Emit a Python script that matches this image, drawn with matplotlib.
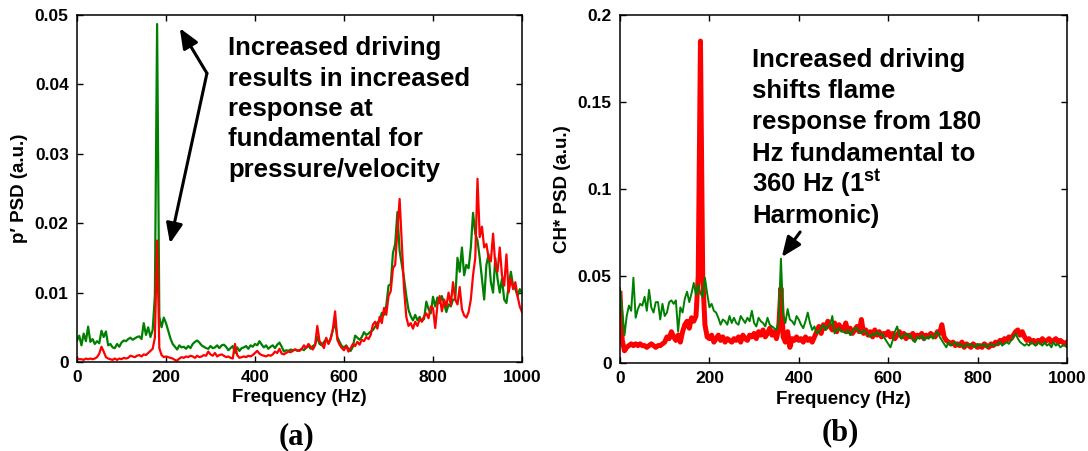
import numpy as np
import matplotlib
matplotlib.use('Agg')
import matplotlib.pyplot as plt
from matplotlib.ticker import FuncFormatter

plt.rcParams['font.family'] = ['Liberation Sans', 'DejaVu Sans']
plt.rcParams['font.weight'] = 'bold'
plt.rcParams['mathtext.fontset'] = 'custom'
plt.rcParams['mathtext.rm'] = 'Liberation Sans:bold'
plt.rcParams['mathtext.default'] = 'rm'

# frequency axis, 5 Hz bins
freq = np.arange(0, 1001, 5)

# (a) pressure PSD
p_green = [
    0.0031, 0.0038, 0.0024, 0.0041, 0.0030, 0.0051, 0.0029, 0.0033, 0.0026, 0.0030,
    0.0027, 0.0045, 0.0036, 0.0044, 0.0024, 0.0026, 0.0021, 0.0020, 0.0026, 0.0022,
    0.0028, 0.0031, 0.0030, 0.0033, 0.0035, 0.0032, 0.0034, 0.0036, 0.0037, 0.0033,
    0.0056, 0.0039, 0.0050, 0.0036, 0.0046, 0.0095, 0.0487, 0.0065, 0.0050, 0.0064,
    0.0056, 0.0045, 0.0034, 0.0026, 0.0022, 0.0018, 0.0024, 0.0021, 0.0022, 0.0019,
    0.0023, 0.0020, 0.0026, 0.0029, 0.0031, 0.0028, 0.0024, 0.0022, 0.0020, 0.0019,
    0.0023, 0.0020, 0.0021, 0.0024, 0.0020, 0.0024, 0.0025, 0.0022, 0.0017, 0.0020,
    0.0023, 0.0013, 0.0021, 0.0016, 0.0020, 0.0021, 0.0023, 0.0019, 0.0024, 0.0022,
    0.0026, 0.0024, 0.0030, 0.0025, 0.0021, 0.0024, 0.0019, 0.0022, 0.0024, 0.0020,
    0.0025, 0.0028, 0.0022, 0.0015, 0.0017, 0.0016, 0.0018, 0.0017, 0.0018, 0.0016,
    0.0017, 0.0019, 0.0017, 0.0021, 0.0023, 0.0019, 0.0023, 0.0025, 0.0036, 0.0026,
    0.0024, 0.0029, 0.0033, 0.0027, 0.0034, 0.0046, 0.0057, 0.0036, 0.0029, 0.0023,
    0.0021, 0.0024, 0.0019, 0.0016, 0.0022, 0.0038, 0.0035, 0.0032, 0.0036, 0.0043,
    0.0039, 0.0041, 0.0044, 0.0046, 0.0051, 0.0057, 0.0059, 0.0071, 0.0068, 0.0081,
    0.0110, 0.0112, 0.0157, 0.0170, 0.0216, 0.0160, 0.0140, 0.0120, 0.0095, 0.0075,
    0.0066, 0.0060, 0.0068, 0.0060, 0.0065, 0.0059, 0.0062, 0.0087, 0.0076, 0.0070,
    0.0094, 0.0080, 0.0093, 0.0085, 0.0095, 0.0084, 0.0072, 0.0083, 0.0080, 0.0090,
    0.0090, 0.0150, 0.0130, 0.0165, 0.0125, 0.0140, 0.0135, 0.0165, 0.0215, 0.0185,
    0.0175, 0.0150, 0.0120, 0.0090, 0.0140, 0.0155, 0.0115, 0.0100, 0.0150, 0.0120,
    0.0100, 0.0120, 0.0090, 0.0085, 0.0110, 0.0130, 0.0110, 0.0105, 0.0095, 0.0105,
    0.0099]
p_red = [
    0.0005, 0.0004, 0.0004, 0.0003, 0.0005, 0.0004, 0.0005, 0.0004, 0.0005, 0.0007,
    0.0012, 0.0022, 0.0015, 0.0007, 0.0005, 0.0004, 0.0003, 0.0005, 0.0003, 0.0005,
    0.0004, 0.0006, 0.0005, 0.0006, 0.0009, 0.0008, 0.0007, 0.0009, 0.0010, 0.0008,
    0.0011, 0.0010, 0.0013, 0.0016, 0.0019, 0.0035, 0.0175, 0.0020, 0.0010, 0.0007,
    0.0008, 0.0007, 0.0006, 0.0005, 0.0003, 0.0002, 0.0005, 0.0007, 0.0006, 0.0008,
    0.0007, 0.0009, 0.0008, 0.0006, 0.0009, 0.0007, 0.0008, 0.0010, 0.0009, 0.0015,
    0.0011, 0.0009, 0.0013, 0.0008, 0.0010, 0.0011, 0.0009, 0.0007, 0.0008, 0.0006,
    0.0005, 0.0026, 0.0010, 0.0006, 0.0007, 0.0008, 0.0007, 0.0009, 0.0008, 0.0010,
    0.0013, 0.0016, 0.0012, 0.0010, 0.0009, 0.0008, 0.0010, 0.0009, 0.0011, 0.0015,
    0.0013, 0.0019, 0.0012, 0.0011, 0.0013, 0.0015, 0.0014, 0.0016, 0.0018, 0.0017,
    0.0016, 0.0019, 0.0024, 0.0020, 0.0026, 0.0022, 0.0018, 0.0024, 0.0052, 0.0030,
    0.0026, 0.0020, 0.0035, 0.0026, 0.0033, 0.0048, 0.0073, 0.0032, 0.0025, 0.0020,
    0.0017, 0.0023, 0.0015, 0.0020, 0.0026, 0.0023, 0.0029, 0.0025, 0.0032, 0.0030,
    0.0036, 0.0033, 0.0039, 0.0054, 0.0058, 0.0048, 0.0065, 0.0056, 0.0078, 0.0068,
    0.0095, 0.0102, 0.0135, 0.0140, 0.0190, 0.0235, 0.0170, 0.0105, 0.0065, 0.0052,
    0.0056, 0.0048, 0.0058, 0.0052, 0.0062, 0.0058, 0.0066, 0.0070, 0.0063, 0.0080,
    0.0078, 0.0049, 0.0082, 0.0095, 0.0073, 0.0090, 0.0080, 0.0100, 0.0082, 0.0115,
    0.0090, 0.0083, 0.0108, 0.0076, 0.0067, 0.0064, 0.0072, 0.0090, 0.0125, 0.0150,
    0.0264, 0.0180, 0.0195, 0.0165, 0.0170, 0.0150, 0.0145, 0.0185, 0.0140, 0.0130,
    0.0165, 0.0125, 0.0110, 0.0155, 0.0100, 0.0120, 0.0105, 0.0115, 0.0095, 0.0080,
    0.0072]

# (b) CH* chemiluminescence PSD
ch_green = [
    0.043, 0.030, 0.016, 0.027, 0.033, 0.030, 0.049, 0.026, 0.031, 0.034,
    0.033, 0.038, 0.030, 0.042, 0.032, 0.029, 0.035, 0.035, 0.025, 0.034,
    0.027, 0.029, 0.035, 0.036, 0.034, 0.036, 0.018, 0.032, 0.029, 0.037,
    0.041, 0.035, 0.040, 0.046, 0.039, 0.045, 0.040, 0.038, 0.049, 0.040,
    0.032, 0.034, 0.030, 0.029, 0.026, 0.022, 0.025, 0.024, 0.022, 0.027,
    0.023, 0.026, 0.023, 0.022, 0.027, 0.025, 0.023, 0.026, 0.024, 0.030,
    0.023, 0.021, 0.026, 0.024, 0.023, 0.021, 0.026, 0.022, 0.021, 0.020,
    0.019, 0.024, 0.060, 0.028, 0.023, 0.031, 0.025, 0.024, 0.022, 0.027,
    0.025, 0.022, 0.020, 0.024, 0.029, 0.023, 0.019, 0.021, 0.017, 0.018,
    0.020, 0.022, 0.019, 0.021, 0.022, 0.027, 0.017, 0.019, 0.020, 0.018,
    0.018, 0.017, 0.019, 0.016, 0.018, 0.020, 0.020, 0.018, 0.017, 0.019,
    0.018, 0.016, 0.015, 0.017, 0.016, 0.018, 0.016, 0.017, 0.015, 0.013,
    0.011, 0.009, 0.013, 0.018, 0.021, 0.016, 0.014, 0.016, 0.017, 0.015,
    0.016, 0.013, 0.012, 0.015, 0.014, 0.016, 0.013, 0.015, 0.014, 0.016,
    0.014, 0.016, 0.018, 0.015, 0.013, 0.011, 0.009, 0.012, 0.010, 0.011,
    0.012, 0.010, 0.011, 0.010, 0.009, 0.011, 0.010, 0.011, 0.010, 0.009,
    0.011, 0.010, 0.010, 0.011, 0.009, 0.010, 0.011, 0.010, 0.010, 0.011,
    0.012, 0.010, 0.011, 0.012, 0.011, 0.013, 0.015, 0.017, 0.014, 0.012,
    0.011, 0.010, 0.011, 0.010, 0.012, 0.011, 0.010, 0.012, 0.011, 0.010,
    0.012, 0.010, 0.011, 0.009, 0.012, 0.010, 0.011, 0.009, 0.010, 0.010,
    0.009]
ch_red = [
    0.040, 0.013, 0.007, 0.009, 0.010, 0.011, 0.010, 0.011, 0.010, 0.011,
    0.010, 0.010, 0.009, 0.010, 0.011, 0.010, 0.009, 0.010, 0.010, 0.011,
    0.012, 0.015, 0.014, 0.018, 0.015, 0.013, 0.016, 0.012, 0.018, 0.022,
    0.024, 0.020, 0.026, 0.024, 0.027, 0.050, 0.185, 0.050, 0.022, 0.015,
    0.014, 0.016, 0.012, 0.014, 0.016, 0.013, 0.015, 0.012, 0.014, 0.013,
    0.012, 0.014, 0.013, 0.015, 0.012, 0.016, 0.014, 0.013, 0.016, 0.015,
    0.017, 0.014, 0.018, 0.016, 0.019, 0.015, 0.017, 0.020, 0.016, 0.018,
    0.014, 0.020, 0.043, 0.015, 0.012, 0.018, 0.009, 0.014, 0.013, 0.015,
    0.013, 0.014, 0.012, 0.015, 0.013, 0.014, 0.012, 0.015, 0.018, 0.021,
    0.017, 0.022, 0.020, 0.024, 0.021, 0.019, 0.023, 0.018, 0.022, 0.020,
    0.019, 0.023, 0.018, 0.020, 0.017, 0.019, 0.021, 0.018, 0.025, 0.017,
    0.019, 0.016, 0.018, 0.015, 0.019, 0.016, 0.018, 0.015, 0.017, 0.016,
    0.018, 0.015, 0.017, 0.014, 0.016, 0.018, 0.015, 0.017, 0.014, 0.016,
    0.015, 0.017, 0.014, 0.016, 0.015, 0.017, 0.014, 0.016, 0.015, 0.017,
    0.016, 0.015, 0.018, 0.017, 0.022, 0.015, 0.013, 0.012, 0.011, 0.012,
    0.010, 0.011, 0.010, 0.012, 0.009, 0.011, 0.010, 0.009, 0.011, 0.010,
    0.009, 0.010, 0.009, 0.011, 0.010, 0.009, 0.011, 0.010, 0.012, 0.011,
    0.013, 0.012, 0.014, 0.013, 0.015, 0.014, 0.016, 0.018, 0.019, 0.016,
    0.018, 0.015, 0.013, 0.014, 0.012, 0.013, 0.011, 0.013, 0.012, 0.014,
    0.012, 0.013, 0.014, 0.012, 0.013, 0.014, 0.012, 0.013, 0.012, 0.011,
    0.012]

xticks = [0, 200, 400, 600, 800, 1000]
yticks_a = [0, 0.01, 0.02, 0.03, 0.04, 0.05]
yticks_b = [0, 0.05, 0.1, 0.15, 0.2]

note_a = ['Increased driving', 'results in increased', 'response at',
          'fundamental for', 'pressure/velocity']
note_b = ['Increased driving', 'shifts flame', 'response from 180',
          'Hz fundamental to', '360 Hz (1$^{st}$', 'Harmonic)']

W, H = 1088, 451
fig = plt.figure(figsize=(W / 100, H / 100), dpi=100)
ax1 = fig.add_axes([77 / W, 1 - 362 / H, 445 / W, 347 / H])
ax2 = fig.add_axes([620 / W, 1 - 363 / H, 447 / W, 348 / H])

ax1.plot(freq, p_green, color='#008000', lw=1.6)
ax1.plot(freq, p_red, color='#ff0000', lw=1.6)
ax2.plot(freq, ch_red, color='#ff0000', lw=3.6)
ax2.plot(freq, ch_green, color='#008000', lw=1.4)

fmt = FuncFormatter(lambda v, p: '%g' % v)
for ax, yt, ylab in [(ax1, yticks_a, 'p\u2032 PSD (a.u.)'), (ax2, yticks_b, 'CH* PSD (a.u.)')]:
    ax.set_xlim(0, 1000)
    ax.set_ylim(yt[0], yt[-1])
    ax.set_xticks(xticks)
    ax.set_yticks(yt)
    ax.yaxis.set_major_formatter(fmt)
    ax.tick_params(direction='in', top=True, right=True, length=4, width=1.0,
                   labelsize=12.5, pad=6)
    for lbl in ax.get_xticklabels() + ax.get_yticklabels():
        lbl.set_fontweight('bold')
    for s in ax.spines.values():
        s.set_linewidth(1.1)
    ax.set_xlabel('Frequency (Hz)', fontsize=13.5, fontweight='bold', labelpad=3)
    ax.set_ylabel(ylab, fontsize=13.5, fontweight='bold', labelpad=5)

# annotation text, one line at a time (baseline positions in pixels)
for i, line in enumerate(note_a):
    fig.text(228 / W, 1 - (55 + 30.5 * i) / H, line, fontsize=18.5,
             fontweight='bold', va='baseline', ha='left')
for i, line in enumerate(note_b):
    fig.text(752 / W, 1 - (67 + 31.2 * i) / H, line, fontsize=18.5,
             fontweight='bold', va='baseline', ha='left')

arrow = dict(arrowstyle='-|>,head_length=0.6,head_width=0.25', color='k',
             lw=2.2, mutation_scale=20, shrinkA=0, shrinkB=0)
ax1.annotate('', xy=(231, 0.0481), xytext=(292, 0.0416), arrowprops=arrow)
ax1.annotate('', xy=(209, 0.0171), xytext=(292, 0.0416), arrowprops=arrow)
ax2.annotate('', xy=(362, 0.0609), xytext=(403, 0.0753), arrowprops=arrow)

fig.text(297 / W, 1 - 437 / H, '(a)', fontsize=22, fontweight='bold',
         family='Liberation Serif', ha='center', va='center')
fig.text(840 / W, 1 - 433 / H, '(b)', fontsize=22, fontweight='bold',
         family='Liberation Serif', ha='center', va='center')

fig.savefig('out.png', dpi=100)
